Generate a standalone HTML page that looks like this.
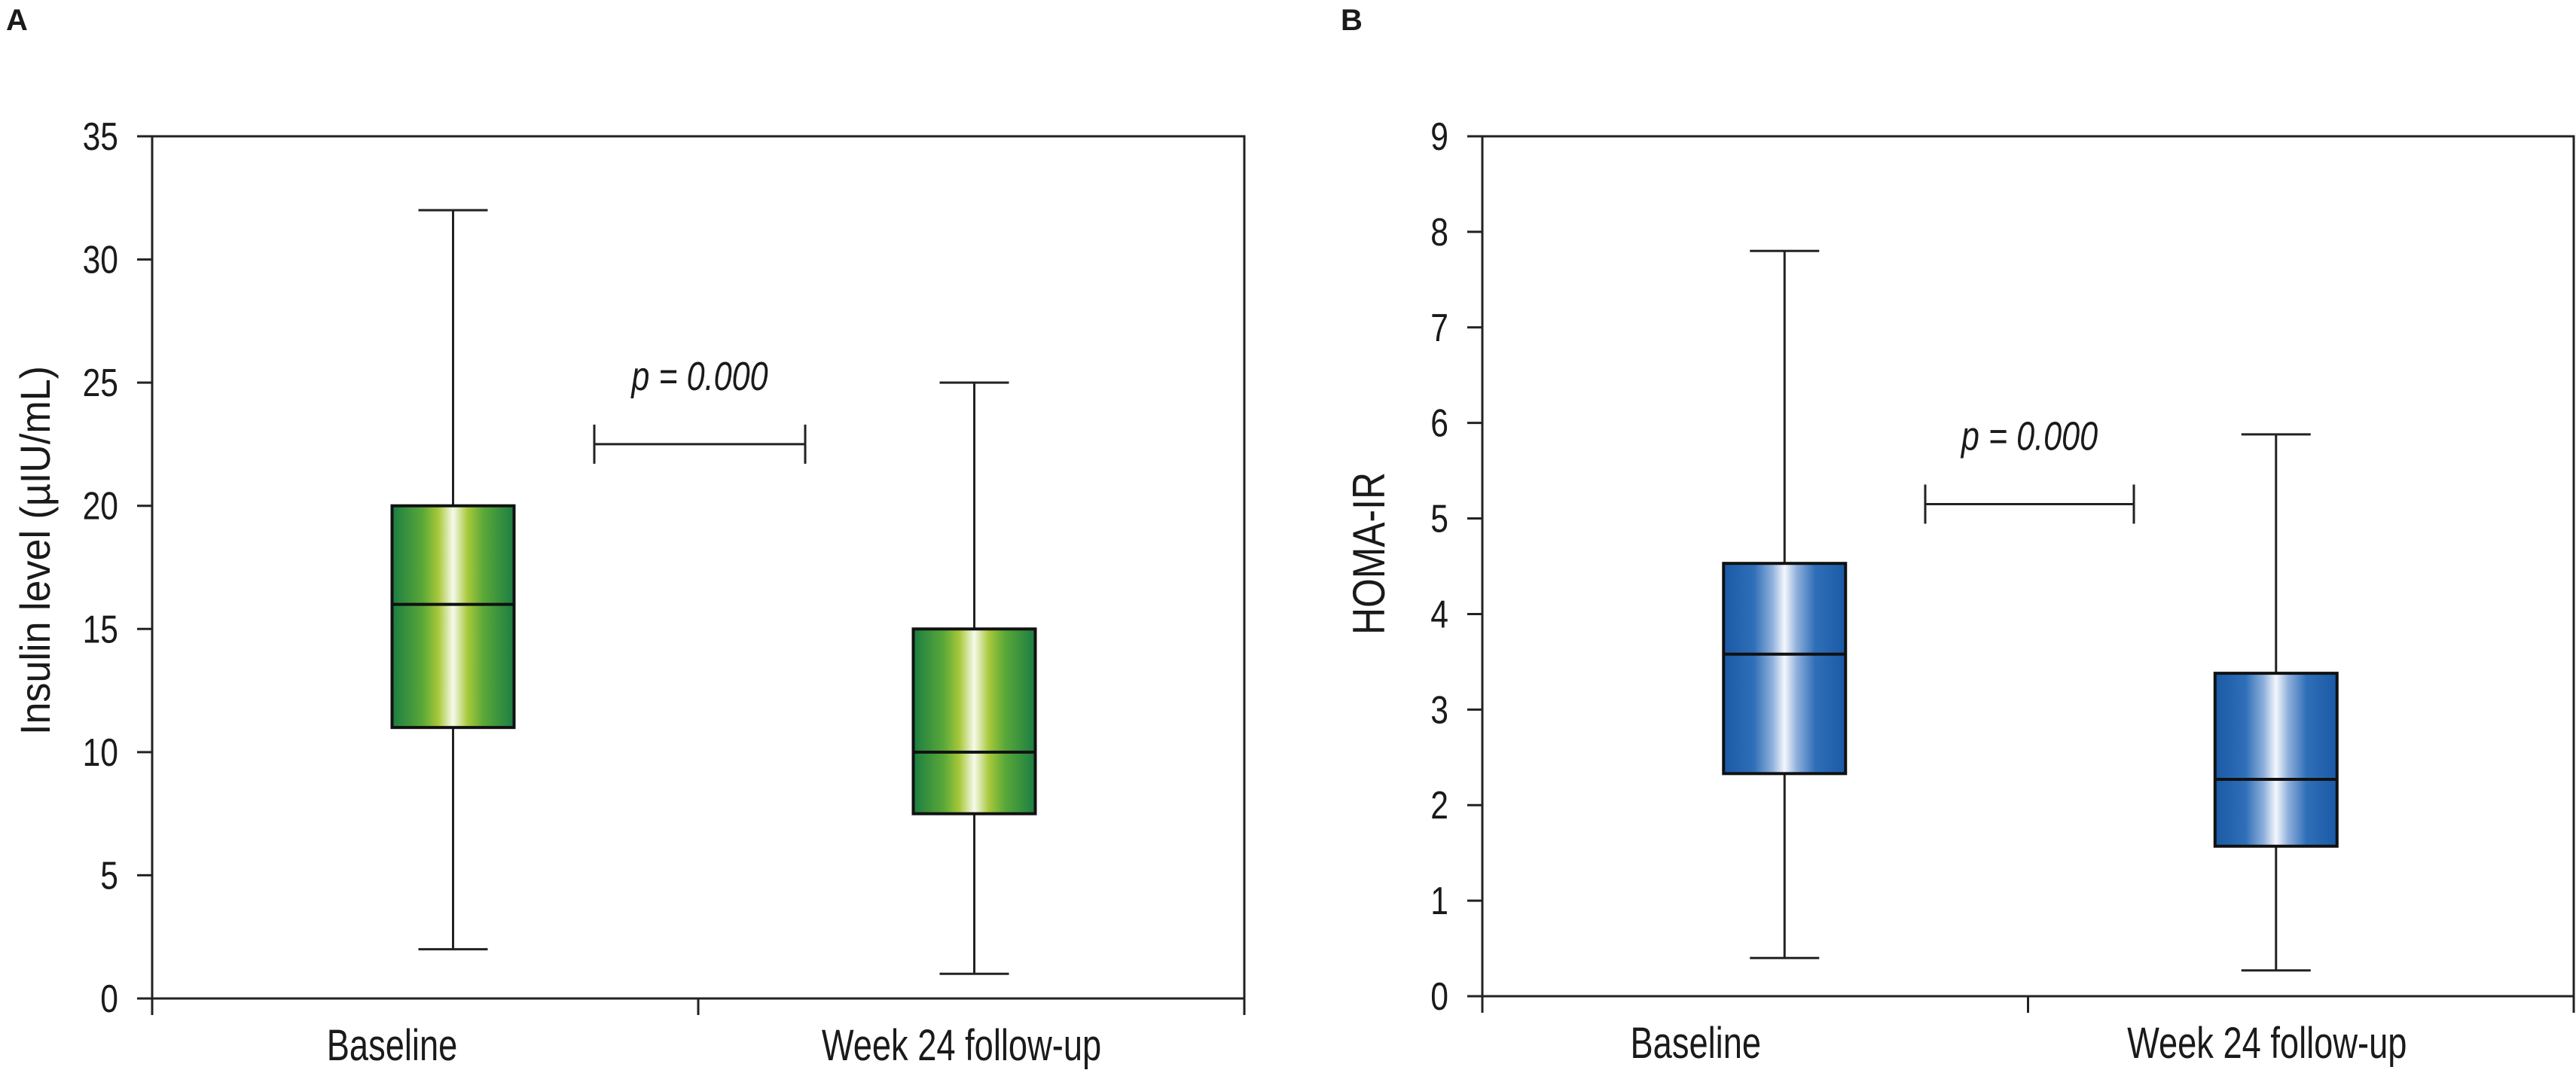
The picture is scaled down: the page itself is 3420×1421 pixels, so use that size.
<!DOCTYPE html>
<html><head><meta charset="utf-8"><style>
html,body{margin:0;padding:0;background:#fff;overflow:hidden;}
svg{display:block;}
text{font-family:"Liberation Sans Narrow","Liberation Sans",sans-serif;fill:#1a1a1a;}
</style></head><body>
<svg id="chart" width="3420" height="1421" viewBox="0 0 3420 1421" xmlns="http://www.w3.org/2000/svg">
<defs>
<linearGradient id="gGreen" x1="0" x2="1" y1="0" y2="0">
<stop offset="0" stop-color="#1a7d42"/><stop offset="0.25" stop-color="#5aa838"/><stop offset="0.38" stop-color="#a8c83a"/><stop offset="0.5" stop-color="#f6faec"/><stop offset="0.62" stop-color="#a8c83a"/><stop offset="0.75" stop-color="#5aa838"/><stop offset="1" stop-color="#1a7d42"/>
</linearGradient>
<linearGradient id="gBlue" x1="0" x2="1" y1="0" y2="0">
<stop offset="0" stop-color="#1a5aa6"/><stop offset="0.25" stop-color="#2f6fb8"/><stop offset="0.4" stop-color="#8fb0dc"/><stop offset="0.5" stop-color="#f4f7fc"/><stop offset="0.6" stop-color="#8fb0dc"/><stop offset="0.75" stop-color="#2f6fb8"/><stop offset="1" stop-color="#1a5aa6"/>
</linearGradient>
</defs>
<text x="8" y="40" font-size="40" font-weight="bold">A</text>
<text x="1780" y="40" font-size="40" font-weight="bold">B</text>
</svg>
<script>
const categories = ["Baseline", "Week 24 follow-up"];
const insulinMin = [2, 1];
const insulinQ1 = [11, 7.5];
const insulinMed = [16, 10];
const insulinQ3 = [20, 15];
const insulinMax = [32, 25];
const insulinTicks = [0, 5, 10, 15, 20, 25, 30, 35];
const insulinP = 22.5;
const homaMin = [0.4, 0.27];
const homaQ1 = [2.33, 1.57];
const homaMed = [3.58, 2.27];
const homaQ3 = [4.53, 3.38];
const homaMax = [7.8, 5.88];
const homaTicks = [0, 1, 2, 3, 4, 5, 6, 7, 8, 9];
const homaP = 5.15;
const pText = "p = 0.000";

const svg = document.getElementById('chart');
const NS = 'http://www.w3.org/2000/svg';
function mk(tag, attrs, parent) {
  const e = document.createElementNS(NS, tag);
  for (const k in attrs) e.setAttribute(k, attrs[k]);
  (parent || svg).appendChild(e);
  return e;
}
function ctext(parent, x, y, size, anchor, str, sx, extra) {
  const t = mk('text', Object.assign({x: 0, y: 0, 'font-size': size, 'text-anchor': anchor, transform: `translate(${x},${y}) scale(${sx},1)`}, extra || {}), parent);
  t.textContent = str;
  return t;
}

function panel(cfg) {
  const g = mk('g', {});
  
  
  const L = cfg.left, R = cfg.right, T = 181, B = cfg.bottom;
  const ymax = cfg.ticks[cfg.ticks.length - 1];
  const y = v => B - (v / ymax) * (B - T);
  const xc = i => L + (R - L) * (i * 2 + 1) / 4 + cfg.shift[i];
  const frame = mk('rect', {x: L, y: T, width: R - L, height: B - T, fill: 'none', stroke: '#222', 'stroke-width': 3}, g);
  
  
  [L, (L + R) / 2, R].forEach(xx => {
    const t = mk('line', {x1: xx, x2: xx, y1: B, y2: B + 22, stroke: '#222', 'stroke-width': 3}, g);
    
    
  });
  cfg.ticks.forEach(v => {
    const t = mk('line', {x1: L - 20, x2: L, y1: y(v), y2: y(v), stroke: '#222', 'stroke-width': 3}, g);
    
    
    const lb = ctext(g, L - 45, y(v) + 18, 52, 'end', v, 0.82);
    
    
  });
  const yl = mk('text', {x: 0, y: 0, 'font-size': cfg.ylSize, 'text-anchor': 'middle', textLength: cfg.ylLen, lengthAdjust: 'spacingAndGlyphs', transform: `translate(${cfg.ylx},${cfg.yly}) rotate(-90)`}, g);
  yl.textContent = cfg.ylabel;
  
  
  categories.forEach((c, i) => {
    const cx = xc(i);
    const bw = 162, cw = 92;
    const w = mk('line', {x1: cx, x2: cx, y1: y(cfg.max[i]), y2: y(cfg.min[i]), stroke: '#222', 'stroke-width': 3}, g);
    
    
    [cfg.max[i], cfg.min[i]].forEach(v => {
      const cap = mk('line', {x1: cx - cw / 2, x2: cx + cw / 2, y1: y(v), y2: y(v), stroke: '#222', 'stroke-width': 3}, g);
      
      
    });
    const box = mk('rect', {x: cx - bw / 2, y: y(cfg.q3[i]), width: bw, height: y(cfg.q1[i]) - y(cfg.q3[i]), fill: cfg.fill, stroke: '#111', 'stroke-width': 4}, g);
    
    
    const md = mk('line', {x1: cx - bw / 2, x2: cx + bw / 2, y1: y(cfg.med[i]), y2: y(cfg.med[i]), stroke: '#111', 'stroke-width': 4}, g);
    
    
    const cl = ctext(g, L + (R - L) * (i * 2 + 1) / 4 + cfg.lshift[i], B + 82, 58, 'middle', c, 0.78);
    
    
  });
  const py = y(cfg.p);
  const br = mk('path', {d: `M${cfg.bx1},${py - 26}V${py + 26}M${cfg.bx1},${py}H${cfg.bx2}M${cfg.bx2},${py - 26}V${py + 26}`, stroke: '#222', 'stroke-width': 3, fill: 'none'}, g);
  
  
  const pt = ctext(g, (cfg.bx1 + cfg.bx2) / 2, py - 72, 54, 'middle', pText, 0.8, {'font-style': 'italic'});
  
  
}

panel({name: 'panel-a-insulin', left: 202, right: 1652, bottom: 1326, ticks: insulinTicks,
  min: insulinMin, q1: insulinQ1, med: insulinMed, q3: insulinQ3, max: insulinMax, p: insulinP,
  fill: 'url(#gGreen)', ylabel: 'Insulin level (\u00b5IU/mL)', ylSize: 56, ylLen: 490, ylx: 66, yly: 731,
  bx1: 789, bx2: 1069, shift: [37, 4], lshift: [-44, -13]});
panel({name: 'panel-b-homa', left: 1968, right: 3417, bottom: 1323, ticks: homaTicks,
  min: homaMin, q1: homaQ1, med: homaMed, q3: homaQ3, max: homaMax, p: homaP,
  fill: 'url(#gBlue)', ylabel: 'HOMA-IR', ylSize: 60, ylLen: 216, ylx: 1838, yly: 735,
  bx1: 2556, bx2: 2833, shift: [39, -33], lshift: [-79, -45]});
</script>
</body></html>
